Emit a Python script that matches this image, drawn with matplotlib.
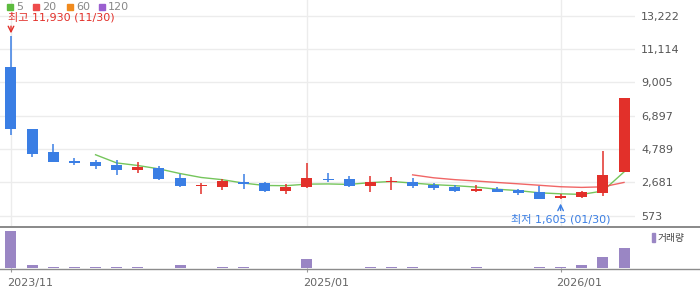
import matplotlib
matplotlib.use("Agg")
import matplotlib.pyplot as plt
import numpy as np
import pandas as pd
from matplotlib.patches import Rectangle
from matplotlib.lines import Line2D
from matplotlib.transforms import ScaledTranslation

plt.rcParams['font.family'] = ['DejaVu Sans', 'Noto Sans CJK KR']

# monthly candles, 2023/11 .. 2026/04
months = ['2023/11', '2023/12', '2024/01', '2024/02', '2024/03', '2024/04', '2024/05',
          '2024/06', '2024/07', '2024/08', '2024/09', '2024/10', '2024/11', '2024/12',
          '2025/01', '2025/02', '2025/03', '2025/04', '2025/05', '2025/06', '2025/07',
          '2025/08', '2025/09', '2025/10', '2025/11', '2025/12', '2026/01', '2026/02',
          '2026/03', '2026/04']
opens = [10000, 6056, 4601, 4051, 3969, 3779, 3463, 3608, 2957, 2440, 2388, 2704, 2641,
         2135, 2388, 2894, 2894, 2451, 2685, 2704, 2515, 2388, 2135, 2261, 2198, 2072,
         1692, 1755, 2009, 3356]
highs = [11930, 6056, 5107, 4222, 4095, 4095, 3969, 3716, 3210, 2660, 2875, 3210, 2704,
         2578, 3925, 3273, 3083, 3083, 3020, 2957, 2641, 2515, 2515, 2388, 2261, 2470,
         1945, 2135, 4664, 8035]
lows = [5677, 4304, 3969, 3798, 3545, 3147, 3292, 2831, 2407, 1945, 2198, 2261, 2072,
        1945, 2325, 2704, 2388, 2072, 2198, 2325, 2198, 2072, 2091, 2072, 1882, 1629,
        1605, 1692, 1819, 3356]
closes = [6056, 4475, 3969, 3925, 3716, 3463, 3672, 2894, 2451, 2470, 2767, 2597, 2135,
          2388, 2957, 2831, 2451, 2704, 2748, 2451, 2325, 2135, 2261, 2072, 2009, 1629,
          1819, 2072, 3147, 8035]
volumes = [5500, 400, 200, 200, 200, 200, 200, 30, 400, 40, 200, 200, 40, 40, 1300, 40,
           40, 200, 200, 200, 40, 40, 200, 40, 40, 200, 200, 400, 1600, 2950]

x_tick_labels = ['2023/11', '2025/01', '2026/01']
y_ticks = [573, 2681, 4789, 6897, 9005, 11114, 13222]
ma_periods = [5, 20, 60, 120]
ma_colors = ['#5dbb3f', '#ee4b4b', '#f08a1e', '#9b5fd0']

RED = '#e2302a'
BLUE = '#3a7ee4'
VOL = '#9a86c4'

W, H = 700, 289
fig = plt.figure(figsize=(W / 100, H / 100), dpi=100)


def fx(px):
    return px / W


def fy(py):
    return 1 - py / H


ax = fig.add_axes([0, fy(226), fx(635), 226 / H])
axv = fig.add_axes([0, fy(268), fx(635), 42 / H])

x = np.arange(len(months))
o = np.array(opens, float)
c = np.array(closes, float)
up = c >= o
colors = np.where(up, RED, BLUE)

# moving averages
close_s = pd.Series(closes, dtype=float)
for p, col in zip(ma_periods[:2], ma_colors[:2]):
    ma = close_s.rolling(p).mean()
    ax.plot(x, ma, color=col, lw=1.0, alpha=0.85, zorder=2)

# candles
ax.vlines(x, lows, highs, colors=colors, lw=1.1, zorder=3)
bottom = np.minimum(o, c)
height = np.maximum(np.abs(c - o), 90)
ax.bar(x, height, bottom=bottom, width=0.52, color=colors, zorder=4)

ax.set_xlim(-0.52, len(months) - 0.48)
ax.set_ylim(-78, 14214)
ax.yaxis.tick_right()
ax.set_yticks(y_ticks)
ax.set_yticklabels([f"{v:,}" for v in y_ticks])
ax.tick_params(axis='y', length=0, pad=4.5, labelsize=8, labelcolor='#555555')
tick_idx = [months.index(m) for m in x_tick_labels]
ax.set_xticks(tick_idx)
ax.tick_params(axis='x', length=0, labelbottom=False)
ax.grid(True, color='#ececec', lw=1)
ax.set_axisbelow(True)
for s in ax.spines.values():
    s.set_visible(False)

# high / low annotations
hi = int(np.argmax(highs))
lo = int(np.argmin(lows))
ax.annotate('', xy=(hi, highs[hi]), xytext=(0, 10), textcoords='offset pixels',
            arrowprops=dict(arrowstyle='->', color=RED, lw=1, shrinkA=0, shrinkB=2))
ax.annotate(f"최고 {highs[hi]:,} (11/30)", xy=(hi, highs[hi]), xytext=(-3, 19),
            textcoords='offset pixels', ha='left', va='center', color=RED, fontsize=8,
            family=['DejaVu Sans', 'Noto Sans CJK KR'])
ax.annotate('', xy=(lo, lows[lo]), xytext=(0, -11), textcoords='offset pixels',
            arrowprops=dict(arrowstyle='->', color=BLUE, lw=1, shrinkA=0, shrinkB=3))
ax.annotate(f"최저 {lows[lo]:,} (01/30)", xy=(lo, lows[lo]), xytext=(0, -20),
            textcoords='offset pixels', ha='center', va='center', color=BLUE, fontsize=8,
            family=['DejaVu Sans', 'Noto Sans CJK KR'])

# volume
axv.bar(x, volumes, width=0.52, color=VOL)
axv.set_xlim(ax.get_xlim())
axv.set_ylim(0, 6300)
axv.set_yticks([])
axv.set_xticks(tick_idx)
axv.set_xticklabels(x_tick_labels)
axv.tick_params(axis='x', length=3, color='#999999', pad=4, labelsize=8, labelcolor='#666666')
for lbl in axv.get_xticklabels():
    lbl.set_ha('left')
    lbl.set_transform(lbl.get_transform() + ScaledTranslation(-0.04, 0, fig.dpi_scale_trans))
for s in axv.spines.values():
    s.set_visible(False)

# frame lines across full width
fig.add_artist(Line2D([0, 1], [fy(226.5), fy(226.5)], color='#808080', lw=1.3))
fig.add_artist(Line2D([0, 1], [fy(268.5), fy(268.5)], color='#8c8c8c', lw=1.0))

# MA legend
lx = [7, 33, 67, 99]
for px, p, col in zip(lx, ma_periods, ma_colors):
    fig.patches.append(Rectangle((fx(px), fy(9.5)), fx(6), 6 / H, color=col,
                                 transform=fig.transFigure))
    fig.text(fx(px + 9), fy(6.5), str(p), color='#888888', fontsize=8, va='center')

# volume legend
fig.patches.append(Rectangle((fx(652), fy(242)), fx(3), 9 / H, color=VOL,
                             transform=fig.transFigure))
fig.text(fx(658), fy(238), '거래량', color='#444444', fontsize=7,
         va='center', family=['Noto Sans CJK KR', 'DejaVu Sans'])

fig.savefig('out.png', dpi=100)
